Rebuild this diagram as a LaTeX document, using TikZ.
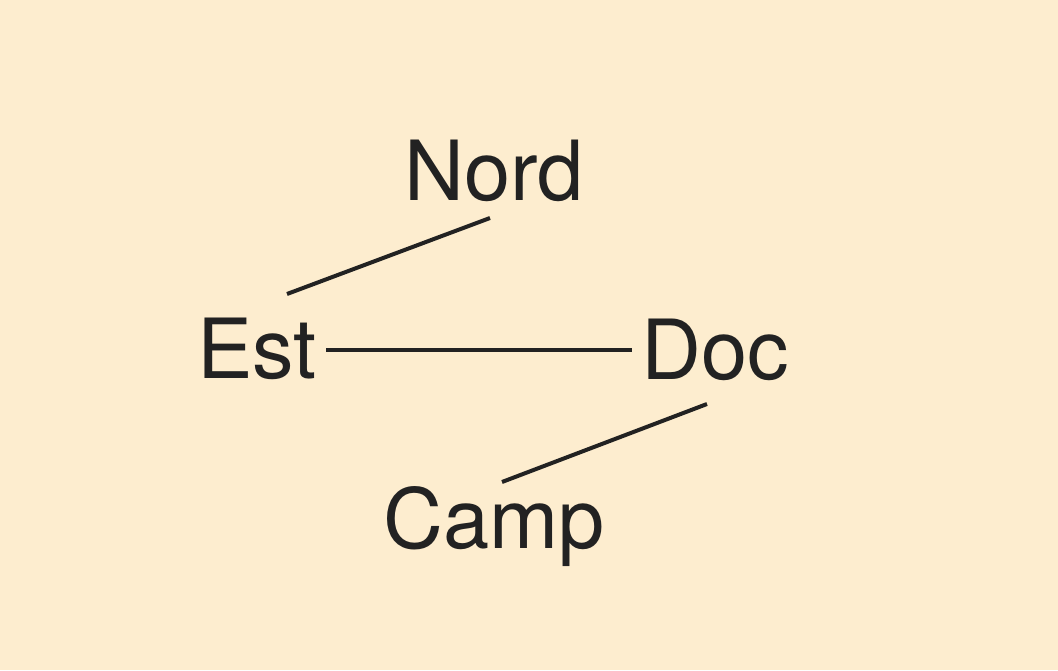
\documentclass[tikz,border=0pt]{standalone}
\usepackage{fontspec}
\setmainfont{TeX Gyre Heros}
\definecolor{bg}{HTML}{FDEDCF}
\definecolor{ink}{HTML}{222222}
\begin{document}
\begin{tikzpicture}[x=1pt,y=-1pt,
  lbl/.style={inner sep=0pt, anchor=base west, text=ink, font=\fontsize{83}{90}\selectfont},
  link/.style={draw=ink, line width=4pt}]
\fill[bg] (0,0) rectangle (1058,670);
\useasboundingbox (0,0) rectangle (1058,670);
\node[lbl] (nord) at (404,200) {Nord};
\node[lbl] (est) at (197,378) {Est};
\node[lbl] (doc) at (641,379) {Doc};
\node[lbl] (camp) at (383,548) {Camp};
\coordinate (n1) at (490,218);
\coordinate (e1) at (287,294);
\coordinate (e2) at (326,350);
\coordinate (d1) at (632,350);
\coordinate (d2) at (707,404);
\coordinate (c1) at (502,482);
\draw[link] (n1) -- (e1);
\draw[link] (e2) -- (d1);
\draw[link] (d2) -- (c1);
\end{tikzpicture}
\end{document}
